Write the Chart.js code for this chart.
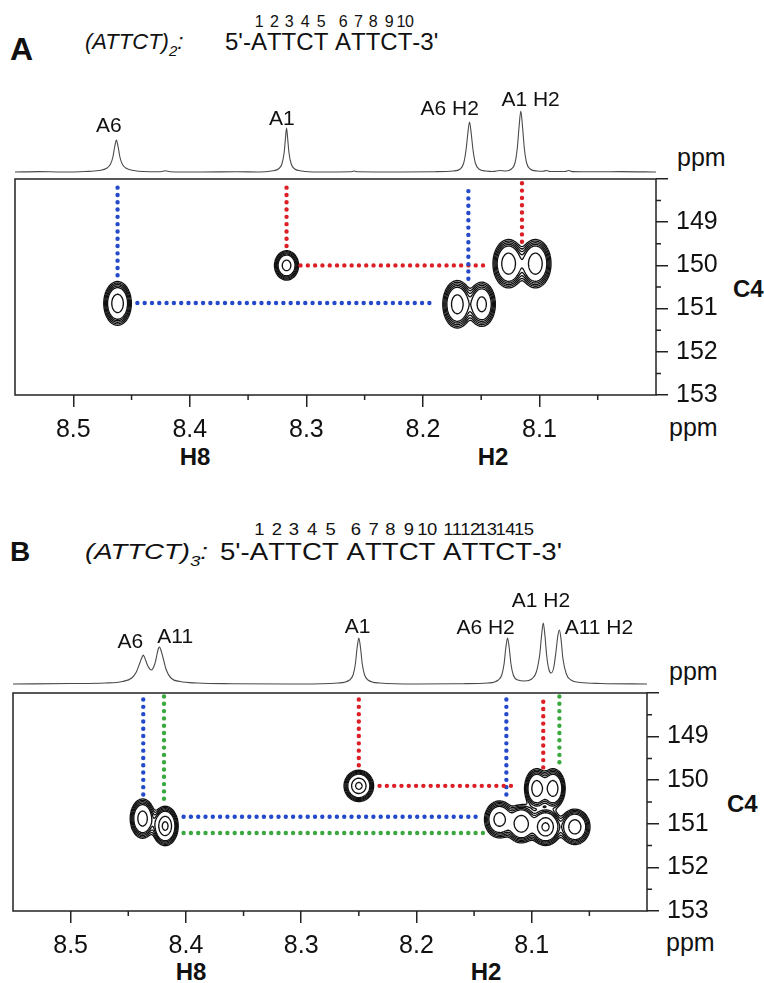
<!DOCTYPE html>
<html>
<head>
<meta charset="utf-8">
<title>H8/H2 - C4 correlations</title>
<script src="https://cdn.jsdelivr.net/npm/chart.js@4"></script>
<style>
  body { margin: 0; background: #fff; }
  #fig { position: relative; width: 764px; height: 983px; overflow: hidden;
         font-family: "Liberation Sans", Arial, sans-serif; color: #111; }
  #fig canvas { position: absolute; left: 0; }
  .t { position: absolute; line-height: 1; white-space: nowrap; }
  .b { font-weight: bold; }
  .c { transform: translateX(-50%); }
  .nt { position: relative; display: inline-block; }
  .num { position: absolute; left: 50%; transform: translateX(-50%); top: -16px;
         font-size: 16px; line-height: 1; letter-spacing: -0.5px; }
  #seqB .num { top: -18px; }
</style>
</head>
<body>
<div id="fig">
  <div class="t b" style="left:10px;top:33px;font-size:32px">A</div>
  <div class="t" style="left:85px;top:31px;font-size:22px;font-style:italic">(ATTCT)<span style="font-size:15px;position:relative;top:7px">2</span>:</div>
  <div class="t" id="seqA" style="left:225px;top:30px;font-size:24px"></div>

  <div class="t" style="left:677px;top:145px;font-size:25px">ppm</div>
  <div class="t" style="left:669px;top:415px;font-size:25px">ppm</div>
  <div class="t b" style="left:733px;top:277px;font-size:24px">C4</div>
  <div class="t b c" style="left:195px;top:445px;font-size:24px">H8</div>
  <div class="t b c" style="left:493px;top:445px;font-size:24px">H2</div>

  <div class="t b" style="left:10px;top:538px;font-size:28px">B</div>
  <div class="t" style="left:85px;top:541px;font-size:22px;font-style:italic;transform:scaleX(1.25);transform-origin:left">(ATTCT)<span style="font-size:15px;position:relative;top:7px">3</span>:</div>
  <div class="t" id="seqB" style="left:220px;top:540px;font-size:24px;transform:scaleX(1.15);transform-origin:left"></div>

  <div class="t" style="left:669px;top:659px;font-size:25px">ppm</div>
  <div class="t" style="left:666px;top:930px;font-size:25px">ppm</div>
  <div class="t b" style="left:727px;top:792px;font-size:24px">C4</div>
  <div class="t b c" style="left:191px;top:960px;font-size:24px">H8</div>
  <div class="t b c" style="left:486px;top:960px;font-size:24px">H2</div>

  <canvas id="specA" width="764" height="120" style="top:60px"></canvas>
  <canvas id="hmbcA" width="764" height="310" style="top:170px"></canvas>
  <canvas id="specB" width="764" height="120" style="top:570px"></canvas>
  <canvas id="hmbcB" width="764" height="298" style="top:685px"></canvas>
</div>

<script>
// ---------- axes ----------
const xTicks = [8.5, 8.4, 8.3, 8.2, 8.1];
const xMinor = [8.45, 8.35, 8.25, 8.15, 8.05];
const yTicks = [148, 149, 150, 151, 152, 153];
const yMinor = [148.5, 149.5, 150.5, 151.5, 152.5];
const contourLevels = [0.03, 0.044, 0.063, 0.088, 0.12, 0.33, 0.6];

// ---------- panel A : (ATTCT)2 ----------
const specA_ppm = [8.55, 8.53, 8.51, 8.49, 8.478, 8.471, 8.468, 8.466, 8.4645, 8.463, 8.4615, 8.46, 8.458, 8.455, 8.448, 8.44,
  8.425, 8.421, 8.417, 8.39, 8.36, 8.34, 8.33, 8.324, 8.321, 8.319, 8.318, 8.317, 8.316, 8.315, 8.313, 8.31, 8.304, 8.29,
  8.262, 8.259, 8.256, 8.22, 8.19, 8.174, 8.168, 8.165, 8.163, 8.1615, 8.16, 8.1585, 8.157, 8.155, 8.152, 8.146, 8.14,
  8.134, 8.129, 8.124, 8.121, 8.119, 8.1175, 8.116, 8.1145, 8.113, 8.111, 8.108, 8.102, 8.097, 8.094, 8.091, 8.078, 8.075,
  8.072, 8.05, 8.03, 8.0];
const specA_int = [0, 0.4, 0, 0.5, 1.5, 4, 8, 15, 25, 32, 25, 15, 8, 4, 1.5, 0.5,
  0.3, 1.2, 0.3, 0, 0.3, 0, 1, 3, 8, 20, 33, 44, 33, 20, 8, 3, 1, 0,
  0.2, 1, 0.2, 0, 0.3, 1, 3, 9, 22, 38, 50, 38, 22, 9, 3, 1, 0.5,
  1.5, 1, 3, 9, 24, 45, 61, 45, 24, 9, 3, 1, 0.8, 1.5, 0.5, 0.5, 1.5,
  0.4, 0.2, 0.4, 0];
const labelA_text = ['A6', 'A1', 'A6 H2', 'A1 H2'];
const labelA_ppm = [8.4695, 8.321, 8.177, 8.1076];
const labelA_int = [40, 47, 57, 66];

const crossA_x = [8.462, 8.317, 8.1705, 8.1495, 8.1265, 8.1035];
const crossA_y = [150.88, 150.0, 150.9, 150.9, 149.96, 149.96];
const crossA_amp = [0.55, 0.47, 0.52, 0.45, 0.58, 0.58];
const crossA_sx = [0.0049, 0.0044, 0.0052, 0.005, 0.0055, 0.0055];
const crossA_sy = [0.21, 0.145, 0.23, 0.22, 0.23, 0.23];

const walkA_series = ['A6', 'A6', 'A6', 'A1', 'A1', 'A1'];
const walkA_x1 = [8.462, 8.445, 8.161, 8.317, 8.305, 8.115];
const walkA_y1 = [148.2, 150.87, 148.28, 148.2, 150.0, 148.1];
const walkA_x2 = [8.462, 8.19, 8.161, 8.317, 8.143, 8.115];
const walkA_y2 = [150.28, 150.87, 150.36, 149.6, 150.0, 149.52];

// ---------- panel B : (ATTCT)3 ----------
const specB_ppm = [8.55, 8.5, 8.47, 8.455, 8.447, 8.443, 8.44, 8.438, 8.437, 8.436, 8.433, 8.43, 8.427, 8.425, 8.424, 8.423,
  8.422, 8.42, 8.417, 8.413, 8.405, 8.39, 8.36, 8.3, 8.268, 8.258, 8.255, 8.253, 8.2515, 8.25, 8.2485, 8.247, 8.245,
  8.242, 8.232, 8.2, 8.16, 8.138, 8.129, 8.126, 8.124, 8.1225, 8.121, 8.1195, 8.118, 8.116, 8.112, 8.106, 8.1, 8.096,
  8.093, 8.0915, 8.09, 8.0885, 8.087, 8.085, 8.083, 8.081, 8.079, 8.0775, 8.076, 8.0745, 8.073, 8.07, 8.066, 8.058,
  8.04, 8.0];
const specB_int = [0, 0.5, 1, 2.5, 6, 12, 21, 27, 29, 27, 18, 14, 20, 30, 35, 37,
  35, 27, 14, 6, 2.5, 1, 0.3, 0, 1, 4, 9, 20, 36, 46, 36, 20, 9,
  4, 1, 0, 0.3, 1, 4, 9, 20, 36, 46, 36, 20, 9, 4, 3, 5, 12,
  30, 48, 61, 48, 28, 14, 11, 16, 32, 47, 54, 44, 26, 10, 4, 1.5,
  0.5, 0];
const labelB_text = ['A6', 'A11', 'A1', 'A6 H2', 'A1 H2', 'A11 H2'];
const labelB_ppm = [8.4483, 8.4093, 8.2511, 8.14, 8.092, 8.0417];
const labelB_int = [36, 41, 51, 50, 77, 50];

const crossB_x = [8.4376, 8.418, 8.25, 8.128, 8.109, 8.0957, 8.0815, 8.088, 8.0626];
const crossB_y = [150.88, 151.05, 150.13, 150.9, 151.0, 150.19, 150.19, 151.07, 151.07];
const crossB_amp = [0.5, 0.7, 0.7, 0.48, 0.58, 0.52, 0.52, 0.7, 0.52];
const crossB_sx = [0.0045, 0.0045, 0.0051, 0.0055, 0.0055, 0.0044, 0.0044, 0.0055, 0.0055];
const crossB_sy = [0.19, 0.18, 0.143, 0.18, 0.18, 0.19, 0.19, 0.17, 0.17];

const walkB_series = ['A6', 'A11', 'A6', 'A11', 'A1', 'A1', 'A6', 'A1', 'A11'];
const walkB_x1 = [8.437, 8.419, 8.402, 8.402, 8.25, 8.232, 8.122, 8.09, 8.076];
const walkB_y1 = [148.15, 148.08, 150.84, 151.21, 148.15, 150.13, 148.15, 148.2, 148.08];
const walkB_x2 = [8.437, 8.419, 8.145, 8.138, 8.25, 8.113, 8.122, 8.09, 8.076];
const walkB_y2 = [150.42, 150.57, 150.84, 151.21, 149.66, 150.13, 150.42, 149.73, 149.66];

const seriesColor = { A1: '#dc1f26', A6: '#2449c9', A11: '#3aa83f' };

// ---------- setup ----------
Chart.defaults.font.family = '"Liberation Sans", Arial, sans-serif';
Chart.defaults.color = '#111';
Chart.defaults.animation = false;

function buildSeq(id, repeats) {
  let n = 1;
  let html = "5'-";
  repeats.forEach((r, k) => {
    if (k) html += ' ';
    for (const ch of r) html += `<span class="nt">${ch}<span class="num">${n++}</span></span>`;
  });
  document.getElementById(id).innerHTML = html + "-3'";
}
buildSeq('seqA', ['ATTCT', 'ATTCT']);
buildSeq('seqB', ['ATTCT', 'ATTCT', 'ATTCT']);

// marching squares on a 1px grid
function isoLines(ctx, f, nx, ny, x0, y0, lev) {
  ctx.beginPath();
  const seg = (p, q) => { ctx.moveTo(p[0], p[1]); ctx.lineTo(q[0], q[1]); };
  for (let j = 0; j < ny - 1; j++) {
    for (let i = 0; i < nx - 1; i++) {
      const a = f[j * nx + i], b = f[j * nx + i + 1];
      const c = f[(j + 1) * nx + i + 1], d = f[(j + 1) * nx + i];
      const code = (a > lev ? 8 : 0) | (b > lev ? 4 : 0) | (c > lev ? 2 : 0) | (d > lev ? 1 : 0);
      if (code === 0 || code === 15) continue;
      const px = x0 + i, py = y0 + j;
      const T = () => [px + (lev - a) / (b - a), py];
      const R = () => [px + 1, py + (lev - b) / (c - b)];
      const B = () => [px + (lev - d) / (c - d), py + 1];
      const L = () => [px, py + (lev - a) / (d - a)];
      switch (code) {
        case 1: case 14: seg(L(), B()); break;
        case 2: case 13: seg(B(), R()); break;
        case 3: case 12: seg(L(), R()); break;
        case 4: case 11: seg(T(), R()); break;
        case 6: case 9: seg(T(), B()); break;
        case 7: case 8: seg(L(), T()); break;
        case 5: case 10: {
          const m = (a + b + c + d) / 4 > lev;
          if ((code === 5) === m) { seg(L(), T()); seg(B(), R()); }
          else { seg(T(), R()); seg(L(), B()); }
          break;
        }
      }
    }
  }
  ctx.stroke();
}

function contourPlugin(px, py, amp, sx, sy) {
  return {
    id: 'contours',
    beforeDatasetsDraw(chart) {
      const { ctx, chartArea: a, scales: { x, y } } = chart;
      const nx = Math.round(a.right - a.left) + 1, ny = Math.round(a.bottom - a.top) + 1;
      const f = new Float32Array(nx * ny);
      for (let k = 0; k < px.length; k++) {
        const gx = new Float32Array(nx), gy = new Float32Array(ny);
        for (let i = 0; i < nx; i++) {
          const u = (x.getValueForPixel(a.left + i) - px[k]) / sx[k];
          gx[i] = Math.exp(-u * u / 2);
        }
        for (let j = 0; j < ny; j++) {
          const v = (y.getValueForPixel(a.top + j) - py[k]) / sy[k];
          gy[j] = amp[k] * Math.exp(-v * v / 2);
        }
        for (let j = 0; j < ny; j++) {
          if (gy[j] < 1e-4) continue;
          for (let i = 0; i < nx; i++) f[j * nx + i] += gx[i] * gy[j];
        }
      }
      ctx.save();
      ctx.beginPath();
      ctx.rect(a.left, a.top, a.right - a.left, a.bottom - a.top);
      ctx.clip();
      ctx.strokeStyle = '#111';
      ctx.lineWidth = 1.35;
      contourLevels.forEach(l => isoLines(ctx, f, nx, ny, a.left, a.top, l));
      ctx.restore();
    }
  };
}

const framePlugin = {
  id: 'frame',
  afterDraw(chart) {
    const { ctx, chartArea: a, scales: { x, y } } = chart;
    ctx.save();
    ctx.strokeStyle = '#222';
    ctx.lineWidth = 1.5;
    ctx.strokeRect(a.left, a.top, a.right - a.left, a.bottom - a.top);
    ctx.beginPath();
    xMinor.forEach(v => { const p = x.getPixelForValue(v); ctx.moveTo(p, a.bottom); ctx.lineTo(p, a.bottom + 5); });
    yMinor.forEach(v => { const p = y.getPixelForValue(v); ctx.moveTo(a.right, p); ctx.lineTo(a.right + 5, p); });
    ctx.stroke();
    ctx.restore();
  }
};

function labelPlugin(text, ppm, inten) {
  return {
    id: 'peakLabels',
    afterDatasetsDraw(chart) {
      const { ctx, scales: { x, y } } = chart;
      ctx.save();
      ctx.font = '21px "Liberation Sans", Arial, sans-serif';
      ctx.fillStyle = '#111';
      ctx.textAlign = 'center';
      ctx.textBaseline = 'alphabetic';
      text.forEach((t, i) => ctx.fillText(t, x.getPixelForValue(ppm[i]), y.getPixelForValue(inten[i])));
      ctx.restore();
    }
  };
}

function spectrum(id, ppm, inten, yMin, padL, padR, labels) {
  new Chart(document.getElementById(id), {
    type: 'line',
    data: {
      datasets: [{
        data: ppm.map((p, i) => ({ x: p, y: inten[i] })),
        borderColor: '#4a4a4a', borderWidth: 1.1, pointRadius: 0,
        cubicInterpolationMode: 'monotone', fill: false
      }]
    },
    options: {
      responsive: false, events: [],
      layout: { padding: { left: padL, right: padR, top: 0, bottom: 0 } },
      scales: {
        x: { type: 'linear', reverse: true, min: 8.0, max: 8.55, display: false },
        y: { type: 'linear', min: yMin, max: yMin + 120, display: false }
      },
      plugins: { legend: { display: false }, tooltip: { enabled: false } }
    },
    plugins: [labels]
  });
}

function hmbc(id, series, x1, y1, x2, y2, padL, padT, yW, xH, contours) {
  new Chart(document.getElementById(id), {
    type: 'scatter',
    data: {
      datasets: series.map((s, i) => ({
        data: [{ x: x1[i], y: y1[i] }, { x: x2[i], y: y2[i] }],
        showLine: true, pointRadius: 0,
        borderColor: seriesColor[s], borderWidth: 4.4,
        borderDash: [0, 7.3], borderCapStyle: 'round'
      }))
    },
    options: {
      responsive: false, events: [],
      layout: { padding: { left: padL, top: padT, right: 0, bottom: 0 } },
      scales: {
        x: {
          type: 'linear', reverse: true, min: 8.0, max: 8.55, position: 'bottom',
          afterBuildTicks: s => { s.ticks = xTicks.map(v => ({ value: v })); },
          afterFit: s => { s.height = xH; s.paddingLeft = 0; s.paddingRight = 0; },
          grid: { drawOnChartArea: false, drawTicks: true, tickLength: 12, color: '#222', lineWidth: 1.5 },
          border: { display: false },
          ticks: { font: { size: 25 }, color: '#111', padding: 8, maxRotation: 0, autoSkip: false,
                   callback: v => v.toFixed(1) }
        },
        y: {
          type: 'linear', reverse: true, min: 148, max: 153, position: 'right',
          afterBuildTicks: s => { s.ticks = yTicks.map(v => ({ value: v })); },
          afterFit: s => { s.width = yW; s.paddingTop = 0; s.paddingBottom = 0; },
          grid: { drawOnChartArea: false, drawTicks: true, tickLength: 12, color: '#222', lineWidth: 1.5 },
          border: { display: false },
          ticks: { font: { size: 25 }, color: '#111', padding: 8, autoSkip: false,
                   callback: v => (v === 148 ? '' : String(v)) }
        }
      },
      plugins: { legend: { display: false }, tooltip: { enabled: false } }
    },
    plugins: [contours, framePlugin]
  });
}

spectrum('specA', specA_ppm, specA_int, -8, 15, 108, labelPlugin(labelA_text, labelA_ppm, labelA_int));
hmbc('hmbcA', walkA_series, walkA_x1, walkA_y1, walkA_x2, walkA_y2, 15, 9, 108, 85,
     contourPlugin(crossA_x, crossA_y, crossA_amp, crossA_sx, crossA_sy));

spectrum('specB', specB_ppm, specB_int, -6, 13, 117, labelPlugin(labelB_text, labelB_ppm, labelB_int));
hmbc('hmbcB', walkB_series, walkB_x1, walkB_y1, walkB_x2, walkB_y2, 13, 8, 117, 72,
     contourPlugin(crossB_x, crossB_y, crossB_amp, crossB_sx, crossB_sy));
</script>
</body>
</html>
